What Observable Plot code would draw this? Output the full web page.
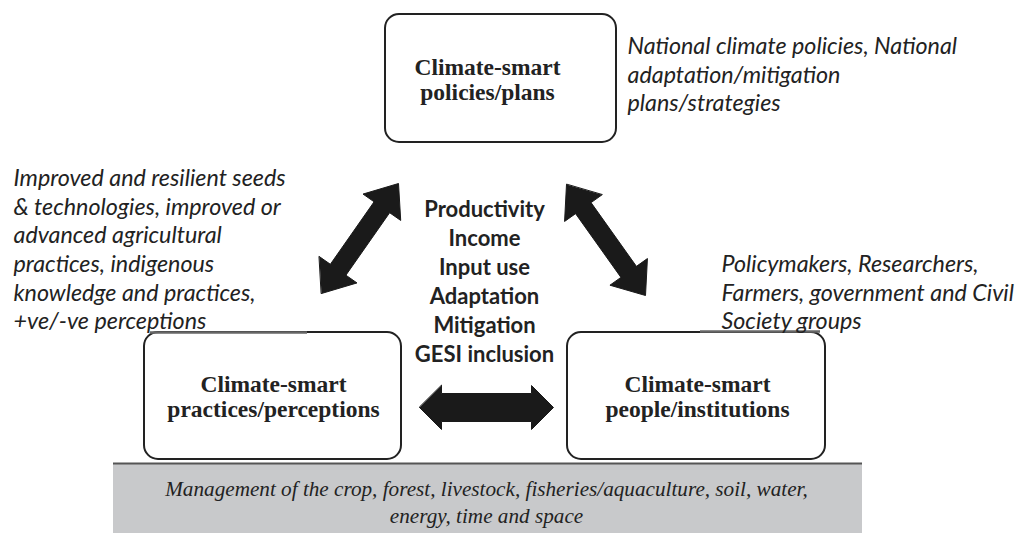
<!DOCTYPE html>
<html>
<head>
<meta charset="utf-8">
<script src="https://cdn.jsdelivr.net/npm/d3@7"></script>
<script src="https://cdn.jsdelivr.net/npm/@observablehq/plot@0.6"></script>
<style>
  html, body { margin: 0; padding: 0; background: #fff; }
  svg { display: block; }
</style>
</head>
<body>
<div id="chart"></div>
<script>
// ---- Content ----
const boxLabels = ["Climate-smart\npolicies/plans", "Climate-smart\npractices/perceptions", "Climate-smart\npeople/institutions"];
const noteTexts = [
  "National climate policies, National\nadaptation/mitigation\nplans/strategies",
  "Improved and resilient seeds\n& technologies, improved or\nadvanced agricultural\npractices, indigenous\nknowledge and practices,\n+ve/-ve perceptions",
  "Policymakers, Researchers,\nFarmers, government and Civil\nSociety groups"
];
const outcomes = ["Productivity", "Income", "Input use", "Adaptation", "Mitigation", "GESI inclusion"];
const baseText = "Management of the crop, forest, livestock, fisheries/aquaculture, soil, water,\nenergy, time and space";

// ---- Layout (diagram geometry in pixel space) ----
const W = 1017, H = 533;
const boxes = [
  {label: boxLabels[0], x1: 385, x2: 616, y1: 14, y2: 142, tx: 487, ty: 73},
  {label: boxLabels[1], x1: 144, x2: 401, y1: 332, y2: 459, tx: 273, ty: 390},
  {label: boxLabels[2], x1: 567, x2: 825, y1: 332, y2: 459, tx: 697, ty: 390}
];
const notes = [
  {text: noteTexts[0], x: 627, y: 50},
  {text: noteTexts[1], x: 13, y: 182},
  {text: noteTexts[2], x: 721, y: 268}
];
// faint underline strokes left over under two of the notes
const underlines = [
  {x1: 150, x2: 307, y: 332},
  {x1: 700, x2: 820, y: 331}
];
const arrows = [
  {x1: 321, y1: 293, x2: 398, y2: 183, s: 9.5, h: 23, L: 29},
  {x1: 566, y1: 184, x2: 645, y2: 295, s: 9.5, h: 23, L: 29},
  {x1: 419, y1: 407, x2: 553, y2: 407, s: 14, h: 22, L: 22}
];
const base = {x1: 113, x2: 862, y1: 463, y2: 533};

function arrowPolygon(a, id) {
  const dx = a.x2 - a.x1, dy = a.y2 - a.y1, len = Math.hypot(dx, dy);
  const ux = dx / len, uy = dy / len, nx = -uy, ny = ux;
  const P = (t, n) => ({id, x: a.x1 + ux * t + nx * n, y: a.y1 + uy * t + ny * n});
  return [
    P(0, 0), P(a.L, a.h), P(a.L, a.s), P(len - a.L, a.s), P(len - a.L, a.h),
    P(len, 0), P(len - a.L, -a.h), P(len - a.L, -a.s), P(a.L, -a.s), P(a.L, -a.h)
  ];
}
const arrowPts = arrows.flatMap((a, i) => arrowPolygon(a, i));

const sansFS = 23.3, sansLH = 28.6 / 23.3;
const serifFS = 23.5;
const baseFS = 21.2;

const chart = Plot.plot({
  width: W, height: H,
  marginTop: 0, marginRight: 0, marginBottom: 0, marginLeft: 0,
  x: {domain: [0, W], range: [0, W], axis: null},
  y: {domain: [0, H], range: [0, H], axis: null},
  style: {background: "#fff"},
  marks: [
    // base bar
    Plot.rect([base], {x1: "x1", x2: "x2", y1: "y1", y2: "y2", fill: "#c8c9cb"}),
    Plot.ruleY([base], {x1: "x1", x2: "x2", y: "y1", stroke: "#555", strokeWidth: 2}),
    Plot.text([baseText], {x: 486, y: 491 - 0.71 * baseFS, text: d => d,
      lineAnchor: "top", fontFamily: "Liberation Serif", fontStyle: "italic", fontSize: baseFS,
      lineHeight: 27 / baseFS, fill: "#222"}),
    // boxes
    Plot.rect(boxes, {x1: "x1", x2: "x2", y1: "y1", y2: "y2", rx: 14, fill: "#fff",
      stroke: "#222", strokeWidth: 2}),
    Plot.ruleY(underlines, {x1: "x1", x2: "x2", y: "y", stroke: "#666", strokeWidth: 2.5}),
    Plot.text(boxes, {x: "tx", y: d => d.ty - 0.71 * serifFS, text: "label", lineAnchor: "top",
      fontFamily: "Liberation Serif", fontWeight: "bold", fontSize: serifFS, lineHeight: 25 / serifFS,
      fill: "#222"}),
    // arrows
    Plot.line(arrowPts, {x: "x", y: "y", z: "id", curve: "linear-closed", fill: "#1a1a1a",
      stroke: "#1a1a1a", strokeWidth: 1}),
    // notes
    Plot.text(notes, {x: "x", y: d => d.y - 0.71 * sansFS, text: "text", textAnchor: "start",
      lineAnchor: "top", fontFamily: "Lato", fontStyle: "italic", fontSize: sansFS,
      lineHeight: sansLH, fill: "#222"}),
    // outcomes
    Plot.text([outcomes.join("\n")], {x: 484, y: 212 - 0.71 * 22, text: d => d, lineAnchor: "top",
      fontFamily: "Lato", fontWeight: "bold", fontSize: 22, lineHeight: 29 / 22, fill: "#222"})
  ]
});
document.getElementById("chart").append(chart);
</script>
</body>
</html>
